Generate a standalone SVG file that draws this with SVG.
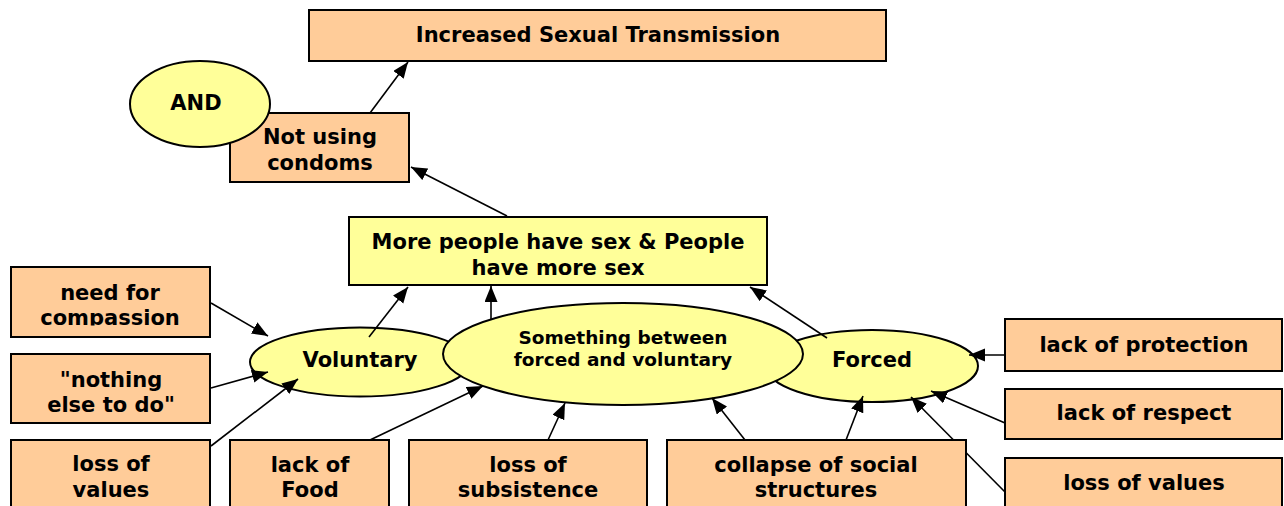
<svg xmlns="http://www.w3.org/2000/svg" width="1284" height="506" viewBox="0 0 1284 506">
<style>
.box{fill:#FFCC99;stroke:#000;stroke-width:2}
.ybox{fill:#FFFF99;stroke:#000;stroke-width:2}
.ell{fill:#FFFF99;stroke:#000;stroke-width:2}
.t{font-family:"DejaVu Sans",Verdana,sans-serif;font-weight:bold;font-size:21px;fill:#000;text-anchor:middle}
.ts{font-size:18.5px}
.c line{stroke:#000;stroke-width:1.6;marker-end:url(#ah)}
</style>
<defs>
<marker id="ah" markerUnits="userSpaceOnUse" markerWidth="17" markerHeight="14" refX="16" refY="6.5" orient="auto">
<path d="M0,0 L16,6.5 L0,13 Z" fill="#000"/>
</marker>
<clipPath id="clipComp"><rect x="11" y="267" width="199" height="58.5"/></clipPath>
</defs>
<rect width="1284" height="506" fill="#fff"/>

<g id="voluntary"><ellipse class="ell" cx="360" cy="362" rx="110" ry="34.5"/><text class="t" x="360" y="367">Voluntary</text></g>
<g id="forced"><ellipse class="ell" cx="872" cy="366" rx="106" ry="36"/><text class="t" x="872" y="367">Forced</text></g>
<g id="between"><ellipse class="ell" cx="623" cy="354" rx="180" ry="51"/><text class="t ts" x="623" y="344">Something between</text><text class="t ts" x="623" y="366">forced and voluntary</text></g>

<g id="connectors" class="c">
<line x1="370" y1="113" x2="408" y2="62"/>
<line x1="507" y1="216" x2="411" y2="167"/>
<line x1="369" y1="337" x2="408" y2="287"/>
<line x1="491" y1="319" x2="491" y2="286"/>
<line x1="827" y1="338" x2="750" y2="287"/>
<line x1="211" y1="303" x2="268" y2="336"/>
<line x1="211" y1="388" x2="268" y2="372"/>
<line x1="211" y1="446" x2="298" y2="379"/>
<line x1="370" y1="440" x2="483" y2="386"/>
<line x1="548" y1="440" x2="565" y2="403"/>
<line x1="745" y1="440" x2="712" y2="398"/>
<line x1="846" y1="440" x2="863" y2="396"/>
<line x1="1005" y1="355" x2="969" y2="355"/>
<line x1="1005" y1="423" x2="931" y2="391"/>
<line x1="1005" y1="492" x2="911" y2="397"/>
</g>

<g id="increased"><rect class="box" x="309" y="10" width="577" height="51"/><text class="t" x="598" y="42">Increased Sexual Transmission</text></g>
<g id="condoms"><rect class="box" x="230" y="113" width="179" height="69"/><text class="t" x="320" y="144">Not using</text><text class="t" x="320" y="170">condoms</text></g>
<g id="and"><ellipse class="ell" cx="200" cy="104" rx="70" ry="43"/><text class="t" x="196" y="110">AND</text></g>
<g id="more"><rect class="ybox" x="349" y="217" width="418" height="68"/><text class="t" x="558" y="249">More people have sex &amp; People</text><text class="t" x="558" y="275">have more sex</text></g>
<g id="compassion"><rect class="box" x="11" y="267" width="199" height="70"/><g clip-path="url(#clipComp)"><text class="t" x="110" y="300">need for</text><text class="t" x="110" y="325">compassion</text></g></g>
<g id="nothing"><rect class="box" x="11" y="354" width="199" height="69"/><text class="t" x="111" y="387">"nothing</text><text class="t" x="111" y="412">else to do"</text></g>
<g id="lossL"><rect class="box" x="11" y="440" width="199" height="80"/><text class="t" x="111" y="471">loss of</text><text class="t" x="111" y="497">values</text></g>
<g id="food"><rect class="box" x="230" y="440" width="159" height="80"/><text class="t" x="310" y="472">lack of</text><text class="t" x="310" y="497">Food</text></g>
<g id="subsistence"><rect class="box" x="409" y="440" width="238" height="80"/><text class="t" x="528" y="472">loss of</text><text class="t" x="528" y="497">subsistence</text></g>
<g id="collapse"><rect class="box" x="667" y="440" width="299" height="80"/><text class="t" x="816" y="472">collapse of social</text><text class="t" x="816" y="497">structures</text></g>
<g id="protection"><rect class="box" x="1005" y="319" width="277" height="52"/><text class="t" x="1144" y="352">lack of protection</text></g>
<g id="respect"><rect class="box" x="1005" y="389" width="277" height="50"/><text class="t" x="1144" y="420">lack of respect</text></g>
<g id="lossR"><rect class="box" x="1005" y="458" width="277" height="60"/><text class="t" x="1144" y="490">loss of values</text></g>
</svg>
